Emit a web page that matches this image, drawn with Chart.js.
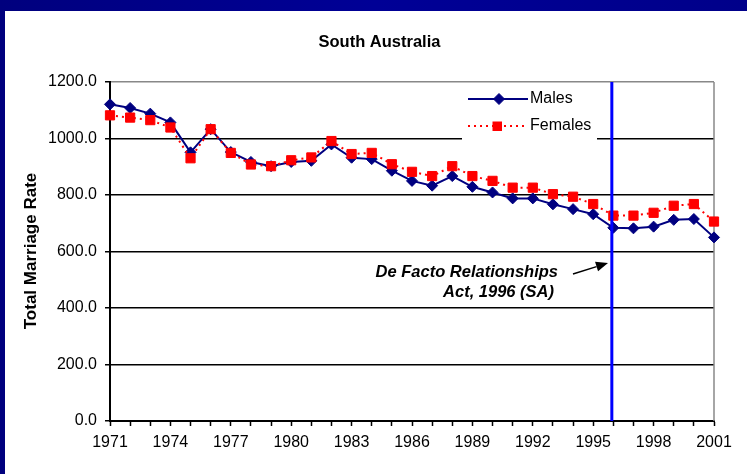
<!DOCTYPE html>
<html><head><meta charset="utf-8">
<script src="https://cdn.jsdelivr.net/npm/chart.js@4/dist/chart.umd.min.js"></script>
<style>html,body{margin:0;padding:0;background:#00008a;overflow:hidden}canvas{display:block}</style>
</head><body>
<canvas id="c" width="747" height="474"></canvas>
<script>
const years = ['1971','1972','1973','1974','1975','1976','1977','1978','1979','1980','1981','1982','1983','1984','1985','1986','1987','1988','1989','1990','1991','1992','1993','1994','1995','1996','1997','1998','1999','2000','2001'];
const males = [1121,1108,1088,1057,951,1033,952,917,902,917,921,979,932,927,886,850,833,867,829,809,788,788,767,750,732,684,682,688,712,715,650];
const females = [1082,1074,1065,1039,930,1033,949,908,902,923,933,991,945,949,909,882,867,902,867,850,826,826,803,794,768,727,727,737,762,768,706];
const yTickValues = [0,200,400,600,800,1000,1200];
const markerYear = '1996';
const titleText = 'South Australia';
const yTitleText = 'Total Marriage Rate';
const noteLines = ['De Facto Relationships', 'Act, 1996 (SA)'];
const seriesNames = ['Males', 'Females'];
const FONT = '"Liberation Sans", Arial, sans-serif';

const framePlugin = {
  id: 'frame',
  beforeDraw(chart) {
    const ctx = chart.ctx;
    ctx.save();
    const g = ctx.createLinearGradient(0, 0, 747, 0);
    g.addColorStop(0, '#00007e');
    g.addColorStop(0.5, '#000096');
    g.addColorStop(1, '#00008a');
    ctx.fillStyle = g;
    ctx.fillRect(0, 0, 747, 474);
    ctx.fillStyle = '#ffffff';
    ctx.fillRect(5, 11, 742, 463);
    ctx.fillStyle = '#000';
    ctx.font = 'bold 16.5px ' + FONT;
    ctx.textAlign = 'center';
    ctx.textBaseline = 'middle';
    ctx.fillText(titleText, 379.5, 42.5);
    ctx.translate(31, 251);
    ctx.rotate(-Math.PI / 2);
    ctx.font = 'bold 17px ' + FONT;
    ctx.fillText(yTitleText, 0, 0);
    ctx.restore();
  },
  beforeDatasetsDraw(chart) {
    const ctx = chart.ctx, a = chart.chartArea;
    ctx.save();
    ctx.strokeStyle = '#888';
    ctx.lineWidth = 1.5;
    ctx.beginPath();
    ctx.moveTo(a.right, a.top);
    ctx.lineTo(a.right, a.bottom);
    ctx.stroke();
    ctx.fillStyle = '#fff';
    ctx.fillRect(462, 86, 135, 55);
    ctx.restore();
  },
  afterDatasetsDraw(chart) {
    const ctx = chart.ctx, a = chart.chartArea;
    const xs = chart.scales.x;
    ctx.save();
    const d0 = chart.data.datasets[0], d1 = chart.data.datasets[1];
    ctx.lineWidth = 2;
    ctx.strokeStyle = d0.borderColor;
    ctx.beginPath(); ctx.moveTo(468, 99); ctx.lineTo(528, 99); ctx.stroke();
    ctx.fillStyle = d0.borderColor;
    ctx.lineWidth = 1;
    Chart.helpers.drawPoint(ctx, {pointStyle: 'rectRot', radius: 5.5, borderWidth: 1}, 499, 99);
    ctx.lineWidth = 2;
    ctx.strokeStyle = d1.borderColor;
    ctx.setLineDash([2, 4]);
    ctx.beginPath(); ctx.moveTo(468, 126); ctx.lineTo(528, 126); ctx.stroke();
    ctx.setLineDash([]);
    ctx.fillStyle = d1.borderColor;
    ctx.fillRect(492.5, 121.5, 9.5, 9.5);
    ctx.fillStyle = '#000';
    ctx.font = '16px ' + FONT;
    ctx.textAlign = 'left';
    ctx.textBaseline = 'middle';
    ctx.fillText(seriesNames[0], 530, 99);
    ctx.fillText(seriesNames[1], 530, 126);
    const vx = xs.getPixelForValue(years.indexOf(markerYear)) - 1.5;
    ctx.strokeStyle = '#0000ff';
    ctx.lineWidth = 3;
    ctx.beginPath(); ctx.moveTo(vx, a.top); ctx.lineTo(vx, a.bottom); ctx.stroke();
    ctx.fillStyle = '#000';
    ctx.font = 'italic bold 16.5px ' + FONT;
    ctx.textAlign = 'right';
    ctx.textBaseline = 'alphabetic';
    ctx.fillText(noteLines[0], 558, 277);
    ctx.fillText(noteLines[1], 554, 297);
    const x1 = 573, y1 = 274, x2 = 608, y2 = 263;
    const L = Math.hypot(x2 - x1, y2 - y1), ux = (x2 - x1) / L, uy = (y2 - y1) / L;
    const hl = 12, hw = 5;
    const bx = x2 - hl * ux, by = y2 - hl * uy;
    ctx.strokeStyle = '#000';
    ctx.lineWidth = 1.5;
    ctx.beginPath(); ctx.moveTo(x1, y1); ctx.lineTo(bx, by); ctx.stroke();
    ctx.beginPath();
    ctx.moveTo(x2, y2);
    ctx.lineTo(bx - hw * uy, by + hw * ux);
    ctx.lineTo(bx + hw * uy, by - hw * ux);
    ctx.closePath();
    ctx.fill();
    ctx.restore();
  }
};

new Chart(document.getElementById('c'), {
  type: 'line',
  data: {
    labels: years,
    datasets: [
      {
        label: seriesNames[0], data: males, order: 1,
        borderColor: '#000080', backgroundColor: '#000080', borderWidth: 2,
        pointStyle: 'rectRot', pointRadius: 5.5, pointBorderWidth: 1,
        pointBackgroundColor: '#000080', pointBorderColor: '#000080',
        tension: 0, clip: false
      },
      {
        label: seriesNames[1], data: females, order: 0,
        borderColor: '#ff0000', backgroundColor: '#ff0000', borderWidth: 2, borderDash: [2, 4],
        pointStyle: 'rect', pointRadius: 6.5, pointBorderWidth: 1,
        pointBackgroundColor: '#ff0000', pointBorderColor: '#ff0000',
        tension: 0, clip: false
      }
    ]
  },
  options: {
    responsive: false,
    animation: false,
    events: [],
    layout: { padding: { top: 82, right: 33, left: 0, bottom: 0 } },
    plugins: { legend: { display: false }, title: { display: false }, tooltip: { enabled: false } },
    scales: {
      x: {
        type: 'category', offset: false,
        afterFit(s) { s.height = 53; },
        grid: { drawOnChartArea: false, drawTicks: true, tickLength: 5, tickColor: '#000', tickWidth: 1.5 },
        border: { color: '#000', width: 2 },
        ticks: {
          autoSkip: false, maxRotation: 0, padding: 7, color: '#000',
          font: { family: FONT, size: 16 },
          callback(v, i) { return i % 3 === 0 ? years[i] : ''; }
        }
      },
      y: {
        min: 0, max: 1200,
        afterFit(s) { s.width = 110; },
        afterBuildTicks(s) { s.ticks = yTickValues.map(v => ({ value: v })); },
        grid: {
          color: c => (c.tick && c.tick.value === 1200) ? '#888' : '#000',
          lineWidth: 1.5, tickLength: 5, tickColor: '#000', tickWidth: 1.5
        },
        border: { color: '#000', width: 2 },
        ticks: {
          padding: 8, color: '#000',
          font: { family: FONT, size: 16 },
          callback(v) { return Number(v).toFixed(1); }
        }
      }
    }
  },
  plugins: [framePlugin]
});
</script>
</body></html>
